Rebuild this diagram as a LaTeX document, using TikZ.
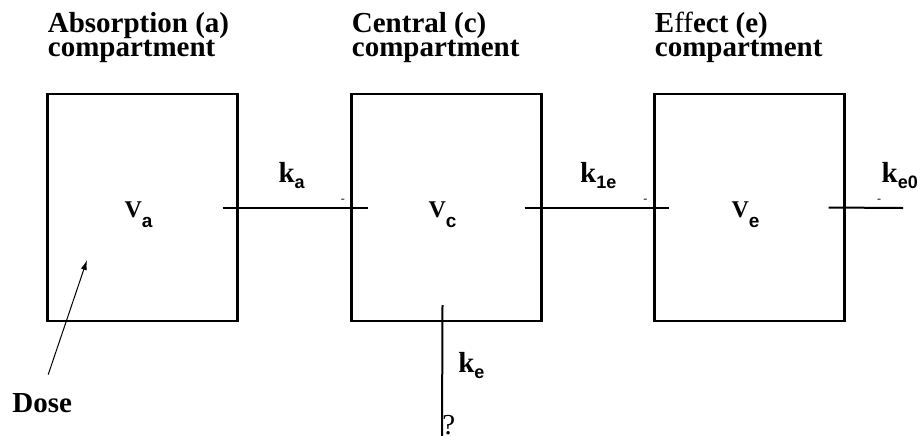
\documentclass[tikz,border=0pt]{standalone}
\usepackage{fontspec}
\setmainfont{Liberation Serif}
\newfontfamily\subsans{Liberation Sans}
\usetikzlibrary{arrows.meta,positioning}

\newcommand{\kconst}[1]{k\raisebox{-3pt}{\subsans\bfseries\fontsize{9}{9}\selectfont #1}}
\newcommand{\vol}[1]{V\raisebox{-5pt}{\subsans\bfseries\fontsize{9.5}{9.5}\selectfont #1}}
\newcommand{\titlefont}{\bfseries\fontsize{14.5}{12}\selectfont\lineskiplimit=-20pt\relax}

\begin{document}
\begin{tikzpicture}[x=0.5pt,y=-0.5pt,
  compbox/.style={draw,line width=1.2pt,minimum width=95pt,minimum height=113.5pt,outer sep=0pt,inner sep=0pt},
  comptitle/.style={align=left,inner sep=0pt,font=\titlefont},
  flow/.style={line width=1pt},
  klabel/.style={inner sep=0pt,anchor=base west,font=\bfseries\fontsize{14.5}{14.5}\selectfont},
  vlabel/.style={inner sep=0pt,anchor=base,font=\bfseries\fontsize{12}{12}\selectfont},
  tick/.style={inner sep=0pt,font=\fontsize{6}{6}\selectfont}]
\useasboundingbox (0,0) rectangle (920,435);
\node[compbox] (absorb) at (142.5,207.5) {};
\node[compbox,right=57pt of absorb] (central) {};
\node[compbox,right=56.5pt of central] (effect) {};
\node[comptitle,above right=15.5pt and 0pt of absorb.north west] (atitle) {Absorption (a)\\compartment};
\node[comptitle,above right=15.5pt and 0pt of central.north west] (ctitle) {Central (c)\\compartment};
\node[comptitle,above right=15.5pt and 0pt of effect.north west] (etitle) {E{\mdseries ff}ect (e)\\compartment};
\node[vlabel,xshift=-2pt,yshift=-4.75pt] (va) at (absorb) {\vol{a}};
\node[vlabel,xshift=-2pt,yshift=-4.75pt] (vc) at (central) {\vol{c}};
\node[vlabel,xshift=-2pt,yshift=-4.75pt] (ve) at (effect) {\vol{e}};
% transfer lines
\coordinate (eout) at (903,208);
\coordinate (keend) at (442,440);
\draw[flow] ([xshift=-7.5pt]absorb.east) -- ([xshift=8pt]central.west)
  node[klabel,pos=.38,yshift=12.75pt] (ka) {\kconst{a}}
  node[tick,pos=.83,yshift=3.5pt] (tka) {-};
\draw[flow] ([xshift=-8.5pt]central.east) -- ([xshift=7pt]effect.west)
  node[klabel,pos=.38,yshift=12.75pt] (kce) {\kconst{1e}}
  node[tick,pos=.84,yshift=3.5pt] (tkce) {-};
\draw[flow] ([xshift=-8pt]effect.east) -- (eout)
  node[klabel,pos=.70,yshift=12.5pt] (keo) {\kconst{e0}}
  node[tick,pos=.68,yshift=3.5pt] (tkeo) {-};
\draw[flow] ([xshift=-2pt,yshift=8pt]central.south) -- (keend)
  node[klabel,pos=.50,xshift=7.5pt] (ke) {\kconst{e}};
\node[anchor=north west,inner sep=0pt,font=\fontsize{14.5}{14.5}\selectfont] (kequery) at (442,415) {?};
% dose
\node[anchor=base west,inner sep=0pt,font=\bfseries\fontsize{14.5}{14.5}\selectfont] (dose) at (12,412) {Dose};
\coordinate (dosetip) at (87,260);
\draw[-{Latex[length=5pt,width=3pt]},line width=0.5pt] ([shift={(6,-18)}]dose.north) -- (dosetip);
\end{tikzpicture}
\end{document}
